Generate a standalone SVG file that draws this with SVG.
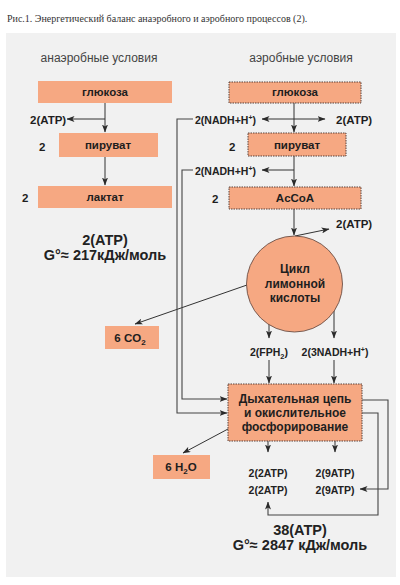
<svg xmlns="http://www.w3.org/2000/svg" width="400" height="585" viewBox="0 0 400 585">
<defs>
<marker id="ah" markerWidth="8" markerHeight="6" refX="7.5" refY="3" orient="auto" markerUnits="userSpaceOnUse">
<path d="M0,0 L8,3 L0,6 L2,3 z" fill="#2a2a2a"/>
</marker>
<style>
.box{fill:#f6a882}
.bd{stroke:#5a4038;stroke-width:1;stroke-dasharray:1.5 1}
.ln{fill:none;stroke:#333;stroke-width:1}
.cn{fill:none;stroke:#444;stroke-width:1.1}
.t{font-family:"Liberation Sans",Arial,sans-serif;font-weight:bold;font-size:11.5px;fill:#1e1e1e}
.m{font-family:"Liberation Sans",Arial,sans-serif;font-weight:bold;font-size:12px;fill:#1e1e1e}
.s{font-family:"Liberation Sans",Arial,sans-serif;font-weight:bold;font-size:10.5px;fill:#222}
.h{font-family:"Liberation Sans",Arial,sans-serif;font-size:12px;fill:#444}
.big{font-family:"Liberation Sans",Arial,sans-serif;font-weight:bold;font-size:14.5px;fill:#222}
.c{text-anchor:middle}
</style>
</defs>
<text x="7" y="22" style="font-family:'Liberation Serif','Times New Roman',serif;font-size:10px;fill:#333">Рис.1. Энергетический баланс анаэробного и аэробного процессов (2).</text>
<rect x="6" y="33" width="390" height="544" fill="#f1f1f1"/>

<text class="h c" x="99" y="62">анаэробные условия</text>
<text class="h c" x="301" y="62">аэробные условия</text>

<g id="connectors">
<line class="ln" x1="105" y1="103" x2="105" y2="132" marker-end="url(#ah)"/>
<line class="ln" x1="105" y1="119" x2="67" y2="119" marker-end="url(#ah)"/>
<line class="ln" x1="105" y1="157" x2="105" y2="185" marker-end="url(#ah)"/>

<line class="ln" x1="294" y1="103" x2="294" y2="132" marker-end="url(#ah)"/>
<line class="ln" x1="294" y1="119" x2="262" y2="119" marker-end="url(#ah)"/>
<line class="ln" x1="294" y1="119" x2="325" y2="119" marker-end="url(#ah)"/>
<line class="ln" x1="294" y1="156" x2="294" y2="186" marker-end="url(#ah)"/>
<line class="ln" x1="294" y1="170" x2="262" y2="170" marker-end="url(#ah)"/>
<line class="ln" x1="294" y1="209" x2="294" y2="235" marker-end="url(#ah)"/>
<line class="ln" x1="295" y1="236" x2="329" y2="229" marker-end="url(#ah)"/>
<line class="ln" x1="247" y1="285" x2="135" y2="324" marker-end="url(#ah)"/>
<line class="ln" x1="269" y1="322" x2="269" y2="338" marker-end="url(#ah)"/>
<line class="ln" x1="334" y1="310" x2="334" y2="338" marker-end="url(#ah)"/>
<line class="ln" x1="269" y1="360" x2="269" y2="383" marker-end="url(#ah)"/>
<line class="ln" x1="334" y1="360" x2="334" y2="383" marker-end="url(#ah)"/>
<line class="ln" x1="268" y1="441" x2="268" y2="452" marker-end="url(#ah)"/>
<line class="ln" x1="335" y1="441" x2="335" y2="452" marker-end="url(#ah)"/>
<line class="ln" x1="228" y1="429" x2="183" y2="453" marker-end="url(#ah)"/>

<polyline class="cn" points="193,119 177,119 177,413 227,413" marker-end="url(#ah)"/>
<polyline class="cn" points="193,170 182,170 182,399 227,399" marker-end="url(#ah)"/>
<polyline class="cn" points="362,400 388,400 388,489 360,489" marker-end="url(#ah)"/>
<polyline class="cn" points="362,413 378,413 378,515 268,515 268,502" marker-end="url(#ah)"/>
</g>

<g id="an-glucose"><rect class="box" x="38" y="81" width="134" height="22"/><text class="t c" x="105" y="96">глюкоза</text></g>
<g id="an-atp"><text class="t" x="30" y="124">2(ATP)</text></g>
<g id="an-pyruvate"><rect class="box" x="59" y="133" width="99" height="24"/><text class="t c" x="108" y="149">пируват</text><text class="t" x="39" y="151">2</text></g>
<g id="an-lactate"><rect class="box" x="38" y="186" width="134" height="22"/><text class="t c" x="105" y="201">лактат</text><text class="t" x="22" y="202">2</text></g>
<g id="an-total"><text class="big c" x="105" y="245">2(ATP)</text><text class="big c" x="105" y="260">G°≈ 217кДж/моль</text></g>

<g id="ae-glucose"><rect class="box bd" x="229" y="82" width="132" height="21"/><text class="t c" x="295" y="96">глюкоза</text></g>
<g id="nadh1"><text class="s" x="195" y="124">2(NADH+H<tspan font-size="7" dy="-4">+</tspan><tspan dy="4">)</tspan></text></g>
<g id="atp1"><text class="t" x="336" y="124">2(ATP)</text></g>
<g id="ae-pyruvate"><rect class="box bd" x="248" y="133" width="98" height="23"/><text class="t c" x="297" y="149">пируват</text><text class="t" x="229" y="151">2</text></g>
<g id="nadh2"><text class="s" x="195" y="175">2(NADH+H<tspan font-size="7" dy="-4">+</tspan><tspan dy="4">)</tspan></text></g>
<g id="ae-accoa"><rect class="box bd" x="229" y="187" width="132" height="22"/><text class="t c" x="295" y="202">AcCoA</text><text class="t" x="212" y="203">2</text></g>
<g id="atp2"><text class="t" x="336" y="228">2(ATP)</text></g>
<g id="krebs"><circle cx="294.5" cy="284" r="48" fill="#f6a882" stroke="#5a4038" stroke-width="0.8"/><text class="m c" x="295" y="273">Цикл</text><text class="m c" x="295" y="288">лимонной</text><text class="m c" x="295" y="302">кислоты</text></g>
<g id="co2"><rect class="box" x="105" y="326" width="54" height="23"/><text class="t c" x="130" y="342">6 CO<tspan font-size="8" dy="3">2</tspan></text></g>
<g id="fph2"><text class="s c" x="269" y="356">2(FPH<tspan font-size="7.5" dy="3">2</tspan><tspan dy="-3">)</tspan></text></g>
<g id="nadh3"><text class="s c" x="335" y="356">2(3NADH+H<tspan font-size="7" dy="-4">+</tspan><tspan dy="4">)</tspan></text></g>
<g id="resp-chain"><rect class="box bd" x="228" y="384" width="134" height="57"/><text class="m c" x="295" y="403">Дыхательная цепь</text><text class="m c" x="295" y="417">и окислительное</text><text class="m c" x="295" y="431">фосфорирование</text></g>
<g id="h2o"><rect class="box" x="153" y="455" width="57" height="24"/><text class="t c" x="181" y="471">6 H<tspan font-size="8" dy="3">2</tspan><tspan dy="-3">O</tspan></text></g>
<g id="atp-a"><text class="s c" x="268" y="477">2(2ATP)</text><text class="s c" x="268" y="494">2(2ATP)</text></g>
<g id="atp-b"><text class="s c" x="335" y="477">2(9ATP)</text><text class="s c" x="335" y="494">2(9ATP)</text></g>
<g id="ae-total"><text class="big c" x="300" y="535">38(ATP)</text><text class="big c" x="300" y="550">G°≈ 2847 кДж/моль</text></g>
</svg>
